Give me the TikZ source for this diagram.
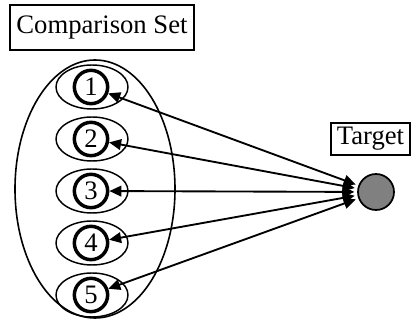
\documentclass[tikz,border=0pt]{standalone}
\usepackage{fontspec}
\setmainfont{Liberation Serif}
\usetikzlibrary{arrows.meta}
\begin{document}
\begin{tikzpicture}[x=0.75pt,y=-0.75pt,
  labelbox/.style={draw,line width=1.5pt,inner sep=0pt,font=\fontsize{20}{22}\selectfont},
  member/.style={draw,circle,line width=2.6pt,minimum size=25pt,inner sep=0pt,font=\fontsize{20}{22}\selectfont},
  ring/.style={draw,line width=1.1pt},
  link/.style={line width=1.4pt,{Triangle[length=9pt,width=8pt]}-{Triangle[length=9pt,width=8pt]},shorten <=2pt,shorten >=0pt}
]
\useasboundingbox (0,0) rectangle (412,324);

% group label and outline of the comparison set
\node[labelbox,minimum width=138pt,minimum height=33.5pt] (setlabel) at (102,27.5) {Comparison Set};
\draw[line width=1.2pt] (95,189) ellipse [x radius=80, y radius=129];

% members of the set: thin ellipse with a heavy numbered circle
\foreach \i/\y in {1/87,2/139,3/191,4/243,5/295}{
  \draw[ring] (92,\y) ellipse [x radius=36, y radius=22];
  \node[member] (c\i) at (91,\y) {\i};
}

% target
\node[labelbox,minimum width=59pt,minimum height=24pt] (tlabel) at (370.5,139) {Target};
\node[draw,circle,fill=gray,line width=1.3pt,minimum size=27pt,inner sep=0pt] (t) at (376,192) {};

% links between target and each member
\foreach \i in {1,...,5}{
  \draw[link] (t) -- (c\i);
}
\end{tikzpicture}
\end{document}
